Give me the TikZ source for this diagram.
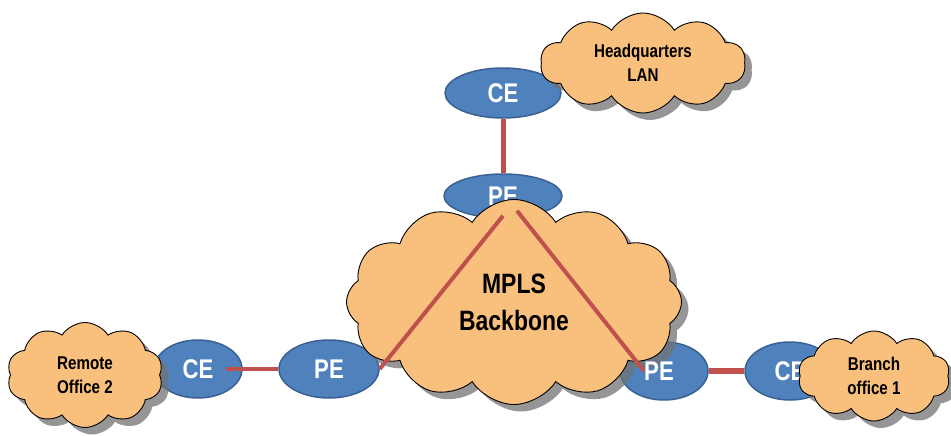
\documentclass[tikz,border=0pt]{standalone}
\usepackage{fontspec}
\setmainfont{Liberation Sans}[FakeStretch=0.82]
\usetikzlibrary{shapes.geometric,shapes.symbols,shadows}
\definecolor{routerblue}{HTML}{4F81BD}
\definecolor{routeredge}{HTML}{3A6194}
\definecolor{cloudtan}{HTML}{F9C07D}
\definecolor{linkred}{HTML}{C0504D}
\tikzset{
  routertext/.style={text=white, inner sep=0pt, font=\bfseries\fontsize{27}{27}\selectfont},
  router/.style={ellipse, fill=routerblue, draw=routeredge, line width=1.5pt, routertext},
  netcloud/.style={cloud, cloud puffs=#1, cloud puff arc=115, cloud ignores aspect,
    fill=cloudtan, draw=black, line width=0.9pt, inner sep=0pt, align=center,
    drop shadow={shadow xshift=7pt, shadow yshift=-7pt, fill=black!55, opacity=0.75},
    font=\bfseries\fontsize{18.5}{24}\selectfont},
  link/.style={draw=linkred, line width=4pt},
}
\begin{document}
\begin{tikzpicture}[x=1pt, y=-1pt]
\useasboundingbox (0,0) rectangle (951,436);
% CE and PE routers
\node[router, minimum width=116pt, minimum height=50pt] (hqce) at (503,93) {CE};
\node[router, minimum width=118pt, minimum height=44pt] (toppe) at (503,196) {PE};
\node[router, minimum width=88pt, minimum height=58pt] (leftce) at (198,369) {CE};
\node[router, minimum width=100pt, minimum height=58pt] (leftpe) at (329,369) {PE};
\node[router, minimum width=88pt, minimum height=58pt] (rightpe) at (664,371) {};
\node[router, minimum width=90pt, minimum height=58pt] (rightce) at (790,371) {CE};
% access links
\draw[link, line width=5pt] (hqce) -- (toppe);
\draw[link, line width=3.5pt, shorten <=28pt] (leftce.center) -- (leftpe);
\draw[link, line width=6pt] (rightpe) -- (rightce);
% sites and backbone
\node[netcloud=10, minimum width=205pt, minimum height=100pt] (hqlan) at (643,63) {Headquarters\\LAN};
\node[netcloud=12, minimum width=335pt, minimum height=205pt, font=\bfseries\fontsize{28}{37}\selectfont] (mpls) at (514,302) {MPLS\\Backbone};
\node[netcloud=10, minimum width=156pt, minimum height=105pt] (remote) at (85,375) {Remote\\Office 2};
\node[netcloud=10, minimum width=152pt, minimum height=90pt] (branch) at (874,376) {Branch\\office 1};
% backbone links
\draw[link] ([yshift=3pt]toppe.south) -- (leftpe.east);
\draw[link] ([xshift=14pt,yshift=8pt]toppe.south) -- ([xshift=-20pt]rightpe.center);
\node[routertext] (rightpelabel) at ([xshift=-5pt]rightpe.center) {PE};
\end{tikzpicture}
\end{document}
